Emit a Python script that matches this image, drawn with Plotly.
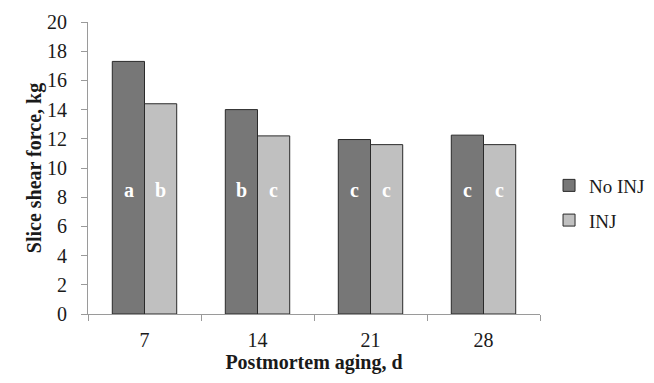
import plotly.graph_objects as go

categories = ["7", "14", "21", "28"]
no_inj = [17.3, 14.0, 11.95, 12.25]
inj = [14.4, 12.2, 11.6, 11.6]
no_inj_letters = ["a", "b", "c", "c"]
inj_letters = ["b", "c", "c", "c"]
y_ticks = list(range(0, 21, 2))

FONT = "Liberation Serif"

fig = go.Figure()
fig.add_trace(go.Bar(
    x=categories, y=no_inj, name="No INJ", legendgroup="a",
    marker=dict(color="#777777", line=dict(color="#2a2a2a", width=1)),
))
fig.add_trace(go.Bar(
    x=categories, y=inj, name="INJ", legendgroup="b",
    marker=dict(color="#c0c0c0", line=dict(color="#2a2a2a", width=1)),
))

annotations = []
for i, (la, lb) in enumerate(zip(no_inj_letters, inj_letters)):
    for lab, shift in ((la, -16), (lb, 16)):
        annotations.append(dict(
            x=i, y=8.5, xref="x", yref="y", text=f"<b>{lab}</b>",
            showarrow=False, xshift=shift,
            font=dict(family=FONT, size=20, color="white"),
        ))

# page has an 8px body margin, so the figure is sized/offset to compensate
fig.update_layout(
    width=646, height=375,
    margin=dict(l=80, r=114, t=14, b=69, autoexpand=False),
    paper_bgcolor="white", plot_bgcolor="white",
    font=dict(family=FONT, size=20, color="#1a1a1a"),
    barmode="group", bargap=0.43, bargroupgap=0,
    showlegend=True,
    legend=dict(x=1.02, y=0.38, xanchor="left", yanchor="middle",
                font=dict(family=FONT, size=19, color="#1a1a1a"),
                itemwidth=30, tracegroupgap=7, bgcolor="rgba(0,0,0,0)"),
    annotations=annotations,
)
fig.update_xaxes(
    type="category", categoryorder="array", categoryarray=categories,
    range=[-0.5, 3.5], showline=True, linecolor="#9a9a9a", linewidth=1,
    ticks="outside", tickson="boundaries", ticklen=6, tickcolor="#9a9a9a",
    showgrid=False, tickfont=dict(family=FONT, size=20), tickangle=0,
    ticklabelstandoff=8, automargin=False,
    title=dict(text="<b>Postmortem aging, d</b>", font=dict(family=FONT, size=20), standoff=2),
)
fig.update_yaxes(
    range=[0, 20], tickvals=y_ticks, showline=True, linecolor="#9a9a9a", linewidth=1,
    ticks="outside", ticklen=6, tickcolor="#9a9a9a", showgrid=False, zeroline=False,
    tickfont=dict(family=FONT, size=20), ticklabelstandoff=10, automargin=False,
    title=dict(text="<b>Slice shear force, kg</b>" + "\u00a0" * 6,
               font=dict(family=FONT, size=20), standoff=0),
)

fig.write_html("out.html")
